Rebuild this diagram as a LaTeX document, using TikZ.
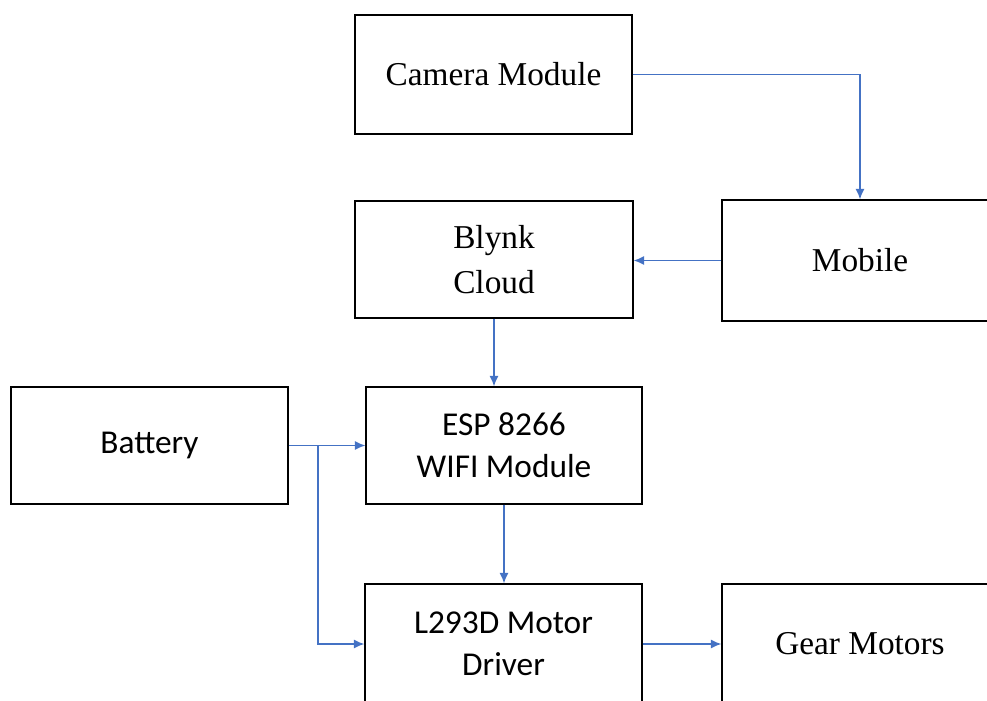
\documentclass[tikz,border=0pt]{standalone}
\usepackage{fontspec}
\setmainfont{Liberation Serif}
\newfontfamily\carlitofont{Carlito}
\usetikzlibrary{arrows.meta}
\definecolor{linkblue}{HTML}{4472C4}
\tikzset{
  blk/.style={draw,line width=0.8pt,align=center,inner sep=0pt},
  serifbox/.style={blk,font=\fontsize{25}{33.5}\selectfont},
  sansbox/.style={blk,font=\carlitofont\fontsize{25}{31.5}\selectfont},
  link/.style={draw=linkblue,line width=1.4pt,-{Latex[length=8pt,width=7pt]}}
}

\begin{document}
\begin{tikzpicture}[x=0.75pt,y=-0.75pt]
  \clip (0,0) rectangle (987,700);
  \node[serifbox,minimum width=277*0.75pt,minimum height=119*0.75pt] (cam) at (493.5,74.5) {Camera Module};
  \node[serifbox,minimum width=278*0.75pt,minimum height=117*0.75pt] (blynk) at (494,259.5) {Blynk\\Cloud};
  \node[serifbox,minimum width=276*0.75pt,minimum height=121*0.75pt] (mob) at (860,260.5) {Mobile};
  \node[sansbox,minimum width=277*0.75pt,minimum height=117*0.75pt] (bat) at (149.5,445.5) {Battery};
  \node[sansbox,minimum width=276*0.75pt,minimum height=117*0.75pt] (esp) at (504,445.5) {ESP 8266\\WIFI Module};
  \node[sansbox,minimum width=277*0.75pt,minimum height=120*0.75pt] (drv) at (503.5,644) {L293D Motor\\Driver};
  \node[serifbox,minimum width=276*0.75pt,minimum height=120*0.75pt] (gear) at (860,644) {Gear Motors};
  \coordinate (tap) at (318,445.5);
  % links
  \draw[link] (cam.east) -| (mob.north);
  \draw[link] (mob.west) -- (mob.west -| blynk.east);
  \draw[link] (blynk.south) -- (blynk.south |- esp.north);
  \draw[link] (bat.east) -- (esp.west);
  \draw[link] (tap) |- (drv.west);
  \draw[link] (esp.south) -- (esp.south |- drv.north);
  \draw[link] (drv.east) -- (gear.west);
\end{tikzpicture}
\end{document}
